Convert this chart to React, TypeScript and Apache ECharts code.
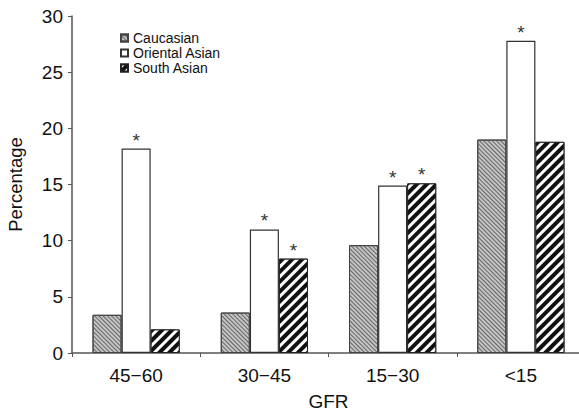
import React, { useEffect, useRef } from "react";
import * as echarts from "echarts";

const categories = ["45\u221260", "30\u221245", "15\u221230", "<15"];
const caucasian = [3.4, 3.6, 9.6, 19.0];
const orientalAsian = [18.2, 11.0, 14.9, 27.8];
const southAsian = [2.1, 8.4, 15.1, 18.8];
const orientalStar = [true, true, true, true];
const southStar = [false, true, true, false];
const yTicks = [0, 5, 10, 15, 20, 25, 30];

export default function App() {
  const ref = useRef<HTMLDivElement>(null);
  useEffect(() => {
    if (!ref.current) return;
    const chart = echarts.init(ref.current, undefined, { renderer: "svg" });
    const font = "Liberation Sans, Arial, Helvetica, sans-serif";
    const starLabel = (flags: boolean[]) => ({
      show: true,
      position: "top" as const,
      distance: -1,
      fontSize: 19,
      color: "#333",
      fontFamily: font,
      formatter: (p: any) => (flags[p.dataIndex] ? "*" : ""),
    });
    chart.setOption({
      animation: false,
      textStyle: { fontFamily: font },
      legend: {
        orient: "vertical",
        left: 115,
        top: 26,
        itemWidth: 7,
        itemHeight: 7,
        itemGap: 1,
        icon: "rect",
        textStyle: {
          fontSize: 14,
          color: "#111",
          fontFamily: font,
        },
        data: ["Caucasian", "Oriental Asian", "South Asian"],
      },
      grid: { left: 72, right: -6, top: 16, bottom: 58, outerBoundsMode: "none", containLabel: false },
      xAxis: {
        type: "category",
        data: categories,
        name: "GFR",
        nameLocation: "middle",
        nameGap: 39,
        nameTextStyle: { fontSize: 19, color: "#111", fontFamily: font },
        axisLine: { lineStyle: { color: "#555", width: 1.5 } },
        axisTick: { show: true, length: 4, lineStyle: { color: "#555" } },
        axisLabel: { fontSize: 19, color: "#111", margin: 13, fontFamily: font },
      },
      yAxis: {
        type: "value",
        min: 0,
        max: 30,
        interval: 5,
        name: "Percentage",
        nameLocation: "middle",
        nameGap: 47,
        nameTextStyle: { fontSize: 18.5, color: "#111", fontFamily: font },
        axisLine: { show: true, lineStyle: { color: "#555", width: 1.5 } },
        axisTick: { show: true, length: 4, lineStyle: { color: "#555" } },
        axisLabel: {
          fontSize: 19,
          color: "#111",
          margin: 9,
          fontFamily: font,
          formatter: (v: number) => (yTicks.includes(v) ? String(v) : ""),
        },
        splitLine: { show: false },
      },
      series: [
        {
          name: "Caucasian",
          type: "bar",
          data: caucasian,
          barGap: "0%",
          barCategoryGap: "32%",
          itemStyle: {
            color: "#c4c4c4",
            borderColor: "#444",
            borderWidth: 1,
            decal: {
              symbol: "rect",
              dashArrayX: [1, 0],
              dashArrayY: [1, 2],
              rotation: Math.PI / 4,
              color: "#666",
            },
          },
        },
        {
          name: "Oriental Asian",
          type: "bar",
          data: orientalAsian,
          itemStyle: { color: "#fff", borderColor: "#333", borderWidth: 1.2 },
          label: starLabel(orientalStar),
        },
        {
          name: "South Asian",
          type: "bar",
          data: southAsian,
          itemStyle: {
            color: "#111",
            borderColor: "#222",
            borderWidth: 1,
            decal: {
              symbol: "rect",
              dashArrayX: [1, 0],
              dashArrayY: [2.5, 4],
              rotation: -Math.PI / 4,
              color: "#fff",
            },
          },
          label: starLabel(southStar),
        },
      ],
    });
    return () => chart.dispose();
  }, []);
  return (
    <div
      ref={ref}
      style={{ width: 579, height: 411, position: "absolute", left: 0, top: 0 }}
    />
  );
}
